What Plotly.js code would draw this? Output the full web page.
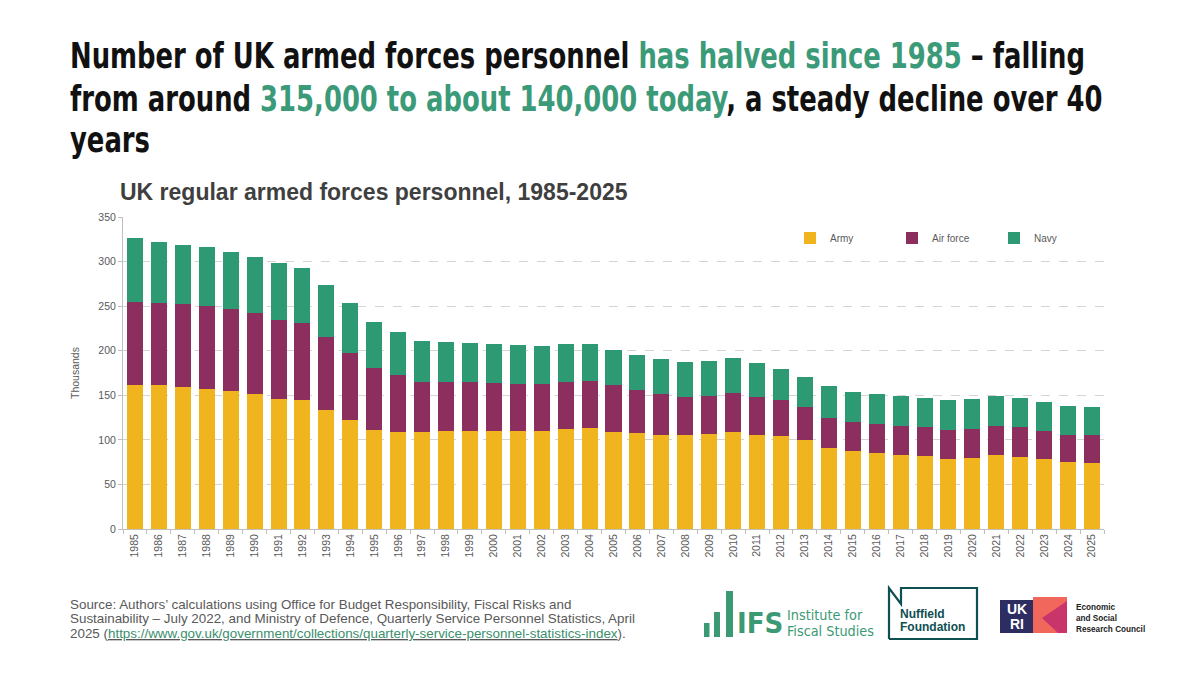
<!DOCTYPE html>
<html><head><meta charset="utf-8">
<script src="https://cdn.plot.ly/plotly-3.0.1.min.js"></script>
<style>
html,body{margin:0;padding:0;background:#fff;}
#wrap{position:relative;width:1200px;height:675px;overflow:hidden;background:#fff;}
#chart{position:absolute;left:0;top:0;width:1200px;height:675px;}
.hl{position:absolute;left:70px;white-space:nowrap;font-family:'Liberation Sans Narrow','DejaVu Sans Condensed','Roboto',sans-serif;font-weight:bold;font-size:36px;line-height:36px;color:#111;transform-origin:0 0;z-index:5;}
.g{color:#3b9a78;}
</style></head><body>
<div id="wrap">
<div id="chart"></div>
<div class="hl" id="h1" style="top:38px">Number of UK armed forces personnel <span class="g">has halved since 1985</span> – falling</div>
<div class="hl" id="h2" style="top:81px">from around <span class="g">315,000 to about 140,000 today</span>, a steady decline over 40</div>
<div class="hl" id="h3" style="top:122px">years</div>
</div>
<script>
// ---- data (thousands) ----
const years = ['1985','1986','1987','1988','1989','1990','1991','1992','1993','1994','1995','1996','1997','1998','1999','2000','2001','2002','2003','2004','2005','2006','2007','2008','2009','2010','2011','2012','2013','2014','2015','2016','2017','2018','2019','2020','2021','2022','2023','2024','2025'];
const army = [162,161,159,157,155,152,146,145,134,122,111,109,109,110,110,110,110,110,112,113,109,108,106,105,107,109,106,104.5,100,91,87,85,82.5,81.5,79,80,82.5,81,78,75,74];
const airForce = [93,93,93,93,92,90,89,86,81,75,70,64,56,55,54.5,54,53,53,53,53,52.5,47.5,46,43,42.5,44,42,40,36.5,34,33,32.5,32.5,32.5,32,32,32.5,33,32,30.5,31];
const navy = [71,68,67,66,64,63,63,62,59,57,51,48,46,45,44.5,44,43,42,42,41,39.5,40,38.5,39,39.5,39,38,35,34.5,35,34,33.5,34,32.5,34,33.5,34,33,33,32.5,32];
const seriesNames = ['Army','Air force','Navy'];
const chartTitle = 'UK regular armed forces personnel, 1985-2025';
const sourceLines = [
  "Source: Authors’ calculations using Office for Budget Responsibility, Fiscal Risks and",
  "Sustainability – July 2022, and Ministry of Defence, Quarterly Service Personnel Statistics, April",
  "2025 (<u><span style='color:#3a8f6d'>https://www.gov.uk/government/collections/quarterly-service-personnel-statistics-index</span></u>)."
];

// ---- layout helpers (pixel -> paper) ----
const L=123, R=1104, T=217, B=529;
const X = x => (x-L)/(R-L);
const Y = y => (B-y)/(B-T);

const cArmy='#F0B41E', cAir='#8C2E5E', cNavy='#2E9A74';
const ifsGreen='#3b9a74', nuff='#0e4f52';
const narrow="Liberation Sans Narrow, DejaVu Sans Condensed, sans-serif";

const traces = [
  {type:'bar', name:seriesNames[0], x:years, y:army, marker:{color:cArmy}},
  {type:'bar', name:seriesNames[1], x:years, y:airForce, marker:{color:cAir}},
  {type:'bar', name:seriesNames[2], x:years, y:navy, marker:{color:cNavy}}
];

const rect = (x0,y0,x1,y1,color)=>({type:'rect',xref:'paper',yref:'paper',x0:X(x0),x1:X(x1),y0:Y(y1),y1:Y(y0),fillcolor:color,line:{width:0},layer:'above'});
const path = (pts,fill,lineColor,lw,close)=>({type:'path',xref:'paper',yref:'paper',
  path:'M '+pts.map(p=>X(p[0])+','+Y(p[1])).join(' L ')+(close?' Z':''),
  fillcolor:fill||'rgba(0,0,0,0)', line:{color:lineColor||'rgba(0,0,0,0)', width:lw||0}, layer:'above'});
const ann = (x,y,text,size,color,opts)=>Object.assign({xref:'paper',yref:'paper',x:X(x),y:Y(y),text:text,showarrow:false,xanchor:'left',yanchor:'middle',align:'left',font:{size:size,color:color,family:'Liberation Sans, Arial, sans-serif'}},opts||{});

const shapes = [
  // IFS bars
  rect(704,623,709.5,637,ifsGreen),
  rect(714,612,720,637,ifsGreen),
  rect(726,591,733,637,ifsGreen),
  // Nuffield outline
  path([[889,639],[889,588],[901,604],[901,588],[977,588],[977,639],[889,639]],null,nuff,2.2,false),
  // UKRI
  rect(1000,600,1033,633,'#2e2d62'),
  rect(1033,597,1067,633,'#f1675b'),
  path([[1067,601],[1042,618],[1058,633],[1067,633]],'#c8356a',null,0,true)
];

const annotations = [
  ann(68,604,sourceLines[0],13.4,'#595959'),
  ann(68,618.5,sourceLines[1],13.4,'#595959'),
  ann(68,633,sourceLines[2],13.4,'#595959'),
  ann(735,623,'<b>IFS</b>',29,ifsGreen,{font:{size:29,color:ifsGreen,family:narrow}}),
  ann(785,615,'Institute for',14.3,ifsGreen,{font:{size:14.3,color:ifsGreen,family:narrow}}),
  ann(785,631,'Fiscal Studies',14.3,ifsGreen,{font:{size:14.3,color:ifsGreen,family:narrow}}),
  ann(898,614,'<b>Nuffield</b>',12,nuff),
  ann(898,627,'<b>Foundation</b>',12,nuff),
  ann(1016.5,609,'<b>UK</b>',14,'#ffffff',{xanchor:'center'}),
  ann(1016.5,624,'<b>RI</b>',14,'#ffffff',{xanchor:'center'}),
  ann(1074,607,'<b>Economic</b>',8.2,'#222222'),
  ann(1074,618,'<b>and Social</b>',8.2,'#222222'),
  ann(1074,629,'<b>Research Council</b>',8.2,'#222222')
];

const layout = {
  width:1200, height:675, barmode:'stack', bargap:0.33,
  margin:{l:L, r:1200-R, t:T, b:675-B, pad:0, autoexpand:false},
  paper_bgcolor:'#ffffff', plot_bgcolor:'#ffffff',
  font:{family:'Liberation Sans, Arial, sans-serif', color:'#595959', size:10},
  title:{text:'<b>'+chartTitle+'</b>', xref:'container', x:120/1200, xanchor:'left', yref:'container', y:1-192/675, yanchor:'middle',
         font:{size:23, color:'#3f3f3f', family:'Liberation Sans, Arial, sans-serif'}},
  xaxis:{type:'category', tickangle:-90, ticks:'outside', tickson:'boundaries', ticklen:4, tickcolor:'#bfbfbf',
         showline:true, linecolor:'#bfbfbf', linewidth:1, showgrid:false, tickfont:{size:10.5, color:'#595959'}},
  yaxis:{range:[0,350], tick0:0, dtick:50, ticks:'outside', ticklen:4, tickcolor:'#bfbfbf', showline:true, linecolor:'#bfbfbf',
         gridcolor:'#d4d4d4', griddash:'dash', zeroline:false, tickfont:{size:10.5, color:'#595959'},
         title:{text:'Thousands', font:{size:10.5, color:'#595959'}, standoff:16}},
  legend:{orientation:'h', x:X(790), y:Y(238), xanchor:'left', yanchor:'middle', entrywidth:57, entrywidthmode:'pixels',
          traceorder:'normal', font:{size:10, color:'#595959'}, bgcolor:'rgba(0,0,0,0)'},
  showlegend:true,
  shapes:shapes, annotations:annotations
};

Plotly.newPlot('chart', traces, layout, {displayModeBar:false, staticPlot:true});

function fitHeadline(){
  const h1=document.getElementById('h1');
  h1.style.transform='none';
  const w=h1.getBoundingClientRect().width;
  const s=1015/w;
  ['h1','h2','h3'].forEach(id=>{document.getElementById(id).style.transform='scaleX('+s+')';});
}
fitHeadline();
if(document.fonts&&document.fonts.ready){document.fonts.ready.then(fitHeadline);}
</script>
</body></html>
